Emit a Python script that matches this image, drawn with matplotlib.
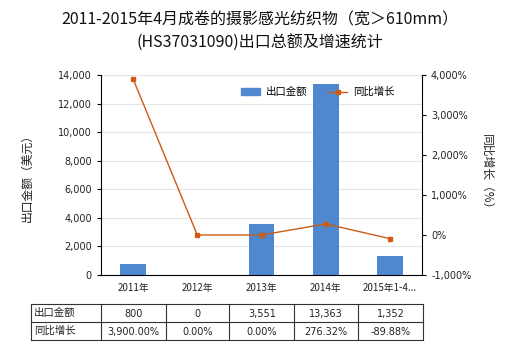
import matplotlib
matplotlib.use("Agg")
import matplotlib.pyplot as plt
from matplotlib.lines import Line2D
from matplotlib.patches import Patch

plt.rcParams['font.family'] = ['Noto Sans CJK SC', 'DejaVu Sans']

categories = ["2011年", "2012年", "2013年", "2014年", "2015年1-4..."]
export_values = [800, 0, 3551, 13363, 1352]
growth_values = [3900.00, 0.00, 0.00, 276.32, -89.88]
export_labels = ["800", "0", "3,551", "13,363", "1,352"]
growth_labels = ["3,900.00%", "0.00%", "0.00%", "276.32%", "-89.88%"]
left_ticks = [0, 2000, 4000, 6000, 8000, 10000, 12000, 14000]
right_ticks = [-1000, 0, 1000, 2000, 3000, 4000]

W, H = 520, 350
fig = plt.figure(figsize=(W/100, H/100), dpi=100)
L, R, T, B = 101, 422, 75, 275
ax = fig.add_axes([L/W, 1-B/H, (R-L)/W, (B-T)/H])

bar_color = '#4f88d1'
line_color = '#cc5c14'
x = list(range(len(categories)))
ax.bar(x, export_values, width=0.4, color=bar_color, zorder=2)
ax.set_xlim(-0.5, len(categories)-0.5)
ax.set_ylim(0, 14000)
ax.set_yticks(left_ticks)
ax.set_yticklabels([f"{v:,}" for v in left_ticks], fontsize=7, color='#222', family='DejaVu Sans')
ax.set_xticks(x)
ax.set_xticklabels(categories, fontsize=7, color='#222')
ax.tick_params(axis='x', length=0, pad=6)
ax.tick_params(axis='y', length=3, width=0.8)
ax.grid(axis='y', color='#e4e4e4', linewidth=0.8, zorder=0)
for s in ['top', 'right']:
    ax.spines[s].set_visible(False)
ax.spines['left'].set_color('#000')
ax.spines['bottom'].set_color('#000')
ax.set_ylabel("出口金额（美元）", fontsize=8.5, color='#222', labelpad=18)

ax2 = ax.twinx()
ax2.plot(x, growth_values, color=line_color, linewidth=1.0, marker='s', markersize=3.5, zorder=3)
ax2.set_ylim(-1000, 4000)
ax2.set_yticks(right_ticks)
ax2.set_yticklabels([f"{v:,}%" for v in right_ticks], fontsize=7, color='#222', family='DejaVu Sans')
ax2.tick_params(axis='y', length=3, width=0.8)
for s in ['top', 'left', 'bottom']:
    ax2.spines[s].set_visible(False)
ax2.spines['right'].set_color('#000')
ax2.set_ylabel("同比增长（%）", fontsize=8.5, color='#222', rotation=-90, labelpad=16)

fig.text(0.5, 1-20/H, "2011-2015年4月成卷的摄影感光纺织物（宽＞610mm）", ha='center', va='center', fontsize=11.5, color='#111')
fig.text(0.5, 1-43/H, "(HS37031090)出口总额及增速统计", ha='center', va='center', fontsize=11.5, color='#111')

handles = [Patch(color=bar_color), Line2D([0], [0], color=line_color, marker='s', markersize=3.5, linewidth=1.0)]
fig.legend(handles, ["出口金额", "同比增长"], loc='center', bbox_to_anchor=(318/W, 1-92/H), ncol=2,
           frameon=False, fontsize=7.5, handlelength=1.8, columnspacing=2.0, handletextpad=0.6)

# table
col_edges = [31, 101, 165.7, 229.3, 294.3, 358.3, 422.7]
row_edges = [304, 322, 340]
def fx(px): return px/W
def fy(py): return 1-py/H
for yy in row_edges:
    fig.add_artist(Line2D([fx(col_edges[0]), fx(col_edges[-1])], [fy(yy), fy(yy)], color='#333', linewidth=0.8))
for xx in col_edges:
    fig.add_artist(Line2D([fx(xx), fx(xx)], [fy(row_edges[0]), fy(row_edges[-1])], color='#333', linewidth=0.8))
row_names = ["出口金额", "同比增长"]
rows = [export_labels, growth_labels]
for r in range(2):
    yc = (row_edges[r] + row_edges[r+1]) / 2
    fig.text(fx(col_edges[0] + 3), fy(yc), row_names[r], ha='left', va='center', fontsize=7.5, color='#222')
    for c in range(5):
        xc = (col_edges[c+1] + col_edges[c+2]) / 2
        fig.text(fx(xc), fy(yc + 1), rows[r][c], ha='center', va='center', fontsize=7, color='#222', family='DejaVu Sans')

fig.savefig("out.png", dpi=100)
